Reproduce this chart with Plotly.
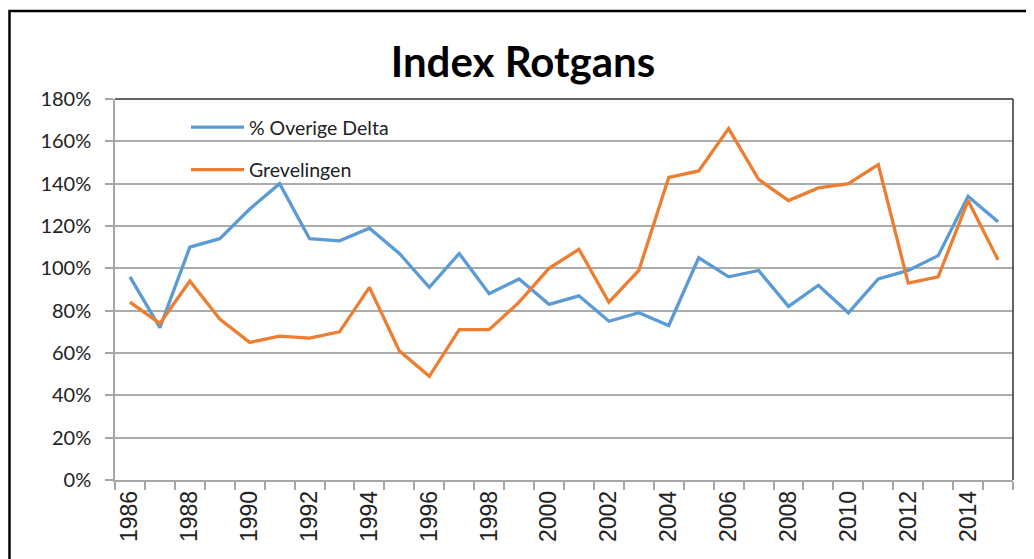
import plotly.graph_objects as go

years = list(range(1986, 2016))
overige_delta = [96, 72, 110, 114, 128, 140, 114, 113, 119, 107, 91, 107, 88, 95, 83,
                 87, 75, 79, 73, 105, 96, 99, 82, 92, 79, 95, 99, 106, 134, 122]
grevelingen = [84, 74, 94, 76, 65, 68, 67, 70, 91, 61, 49, 71, 71, 84, 100,
               109, 84, 99, 143, 146, 166, 142, 132, 138, 140, 149, 93, 96, 132, 104]
y_ticks = [0, 20, 40, 60, 80, 100, 120, 140, 160, 180]
x_labels = list(range(1986, 2015, 2))

# page is offset by the default 8px body margin
OFF = 8
W, H = 1034 - OFF, 559 - OFF
L, R, T, B = 115 - OFF, 1013 - OFF, 99 - OFF, 480 - OFF
pw, ph = R - L, B - T

fig = go.Figure()
fig.add_trace(go.Scatter(x=years, y=overige_delta, mode="lines", name="% Overige Delta",
                         line=dict(color="#5B9BD5", width=3.3), legendgroup="a"))
fig.add_trace(go.Scatter(x=years, y=grevelingen, mode="lines", name="Grevelingen",
                         line=dict(color="#ED7D31", width=3.3), legendgroup="b"))

fig.update_layout(
    width=W, height=H,
    margin=dict(l=L, r=W - R, t=T, b=H - B, autoexpand=False),
    paper_bgcolor="white", plot_bgcolor="white",
    title=dict(text="<b>Index Rotgans</b>", x=(523 - OFF) / W, xanchor="center",
               y=1 - (62 - OFF) / H, yanchor="middle",
               font=dict(family="Lato", size=42, color="black")),
    showlegend=True,
    legend=dict(x=(186 - OFF - L) / pw, y=(B - (108 - OFF)) / ph,
                xanchor="left", yanchor="top", itemwidth=53,
                bgcolor="rgba(0,0,0,0)", tracegroupgap=14,
                font=dict(family="Lato", size=19.5, color="#222222")),
    font=dict(family="Lato", color="#222222"),
)

fig.update_xaxes(
    range=[1985.5, 2015.5], tickmode="array", tickvals=x_labels,
    ticktext=[str(v) for v in x_labels], tickangle=-90, ticks="",
    tickfont=dict(family="Liberation Sans", size=23, color="#222222"),
    showgrid=False, showline=True, linecolor="#A6A6A6", linewidth=1.5,
    minor=dict(tickmode="linear", tick0=1985.5, dtick=1, ticks="outside",
               ticklen=8, tickcolor="#A6A6A6", tickwidth=1.5, showgrid=False),
    zeroline=False,
)
fig.update_yaxes(
    range=[0, 180], tickmode="array", tickvals=y_ticks,
    ticktext=[f"{v}%" for v in y_ticks], ticks="outside", ticklen=8,
    tickcolor="#A6A6A6", tickwidth=1.5, ticklabelstandoff=10,
    tickfont=dict(family="Lato", size=20, color="#222222"),
    showgrid=True, gridcolor="#ACACAC", gridwidth=1.5,
    showline=True, linecolor="#A6A6A6", linewidth=1.5, zeroline=False,
)

# plot-area border (dark top and right)
fig.add_shape(type="line", xref="paper", yref="paper", x0=0, x1=1, y0=1, y1=1,
              line=dict(color="#333333", width=1.5), layer="above")
fig.add_shape(type="line", xref="paper", yref="paper", x0=1, x1=1, y0=0, y1=1,
              line=dict(color="#333333", width=1.5), layer="above")
# outer chart frame
fig.add_shape(type="rect", xref="paper", yref="paper",
              x0=(1.5 - L) / pw, x1=(W + 20 - L) / pw,
              y0=(B - (H + 20)) / ph, y1=(B - 3) / ph,
              line=dict(color="black", width=2.5), layer="above")

fig.write_html("out.html")
